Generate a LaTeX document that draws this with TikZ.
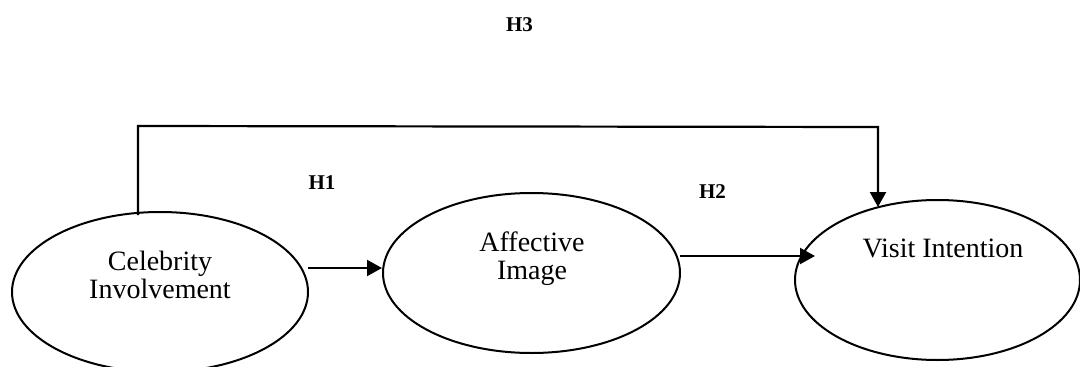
\documentclass[tikz,border=0pt]{standalone}
\usepackage{fontspec}
\setmainfont{Liberation Serif}
\usetikzlibrary{arrows.meta,shapes.geometric}
\begin{document}
\begin{tikzpicture}[x=1pt,y=-1pt,
  construct/.style={draw,line width=2pt,ellipse,inner sep=0pt},
  ctext/.style={anchor=base,align=center,inner sep=0pt,font=\fontsize{28}{28}\selectfont},
  hlabel/.style={anchor=base,inner sep=0pt,font=\fontsize{21}{21}\selectfont\bfseries},
  link/.style={line width=2.2pt},
  arrowlink/.style={line width=2.2pt,-{Triangle[length=15pt,width=16pt]}}]
\clip (0,0) rectangle (1080,367);
\node[construct,minimum width=296pt,minimum height=160pt] (e1) at (160,292) {};
\node[construct,minimum width=297pt,minimum height=160pt] (e2) at (531.5,273) {};
\node[construct,minimum width=285pt,minimum height=160pt] (e3) at (937.5,280) {};
\node[ctext] (t1) at (160,298) {Celebrity\\Involvement};
\node[ctext] (t2) at (532,279) {Affective\\Image};
\node[ctext] (t3) at (943,257) {Visit Intention};
\node[hlabel] (h1) at (322,189) {H1};
\node[hlabel] (h2) at (712.5,198) {H2};
\node[hlabel] (h3) at (519.5,31.5) {H3};
\coordinate (h1s) at (308,268);
\coordinate (h1e) at (382,268);
\coordinate (h2s) at (680,256);
\coordinate (h2e) at (815,256);
\coordinate (h3s) at (138,215);
\coordinate (h3a) at (138,126);
\coordinate (h3b) at (878,127);
\coordinate (h3e) at (878,207);
\draw[arrowlink] (h1s) -- (h1e);
\draw[arrowlink] (h2s) -- (h2e);
\draw[arrowlink] (h3s) -- (h3a) -- (h3b) -- (h3e);
\end{tikzpicture}
\end{document}
